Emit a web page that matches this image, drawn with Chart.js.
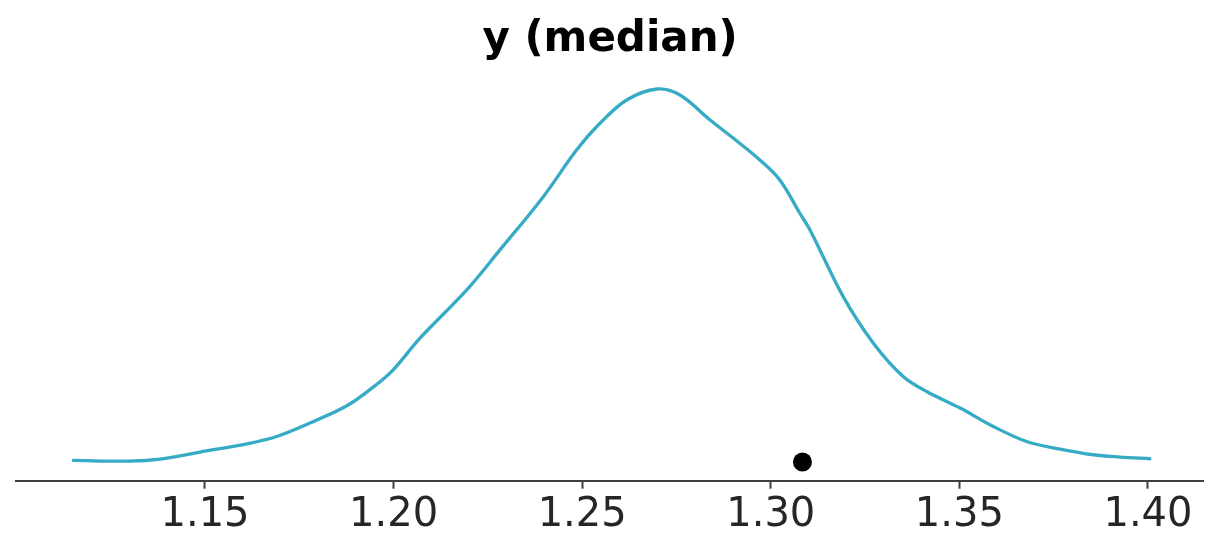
<!DOCTYPE html>
<html>
<head>
<meta charset="utf-8">
<script src="https://cdn.jsdelivr.net/npm/chart.js@4/dist/chart.umd.min.js"></script>
<style>
    html, body { margin: 0; padding: 0; background: #fff; }
    #wrap { width: 1223px; height: 559px; position: relative; }
</style>
</head>
<body>
<div id="wrap"><canvas id="chart"></canvas></div>
<script>
    // kde of the median
    const kdeX = [1.1151, 1.1301, 1.1381, 1.1487, 1.1611, 1.1690, 1.1778, 1.1876, 1.1946, 1.1999,
        1.2070, 1.2194, 1.2282, 1.2397, 1.2485, 1.2547, 1.2618,
        1.2698, 1.2759, 1.2839, 1.2901, 1.2971, 1.3024, 1.3077, 1.3104,
        1.3192, 1.3272, 1.3351, 1.3413, 1.3502, 1.3590, 1.3678, 1.3767, 1.3855, 1.3926, 1.4005];
    const kdeY = [0.038, 0.024, 0.072, 0.238, 0.436, 0.610, 0.930, 1.342, 1.788, 2.201,
        2.957, 4.108, 5.062, 6.333, 7.446, 8.083, 8.639,
        8.901, 8.758, 8.162, 7.725, 7.208, 6.731, 5.937, 5.539,
        3.948, 2.837, 2.041, 1.683, 1.288, 0.849, 0.491, 0.310, 0.174, 0.119, 0.079];

    // observed median
    const obsX = [1.3084];
    const obsY = [0];

    const xTicks = [1.15, 1.20, 1.25, 1.30, 1.35, 1.40];
    const xRange = [1.1000, 1.4148];
    const yRange = [-0.445, 9.345];

    const lineColor = '#36abc6';
    const axisColor = '#404040';

    var kdePoints = kdeX.map(function(v, i) { return {x: v, y: kdeY[i]}; });
    var obsPoints = obsX.map(function(v, i) { return {x: v, y: obsY[i]}; });

    var config = {
        type: 'line',
        data: {
            datasets: [{
                data: kdePoints,
                borderColor: lineColor,
                borderWidth: 3.3,
                borderCapStyle: 'round',
                borderJoinStyle: 'round',
                tension: 0.35,
                pointRadius: 0,
                fill: false
            }, {
                type: 'scatter',
                data: obsPoints,
                backgroundColor: '#000',
                borderWidth: 0,
                pointRadius: 9.5
            }]
        },
        options: {
            responsive: true,
            maintainAspectRatio: false,
            animation: false,
            events: [],
            layout: {
                padding: {left: 16.4, right: 19.2, top: 0, bottom: 0}
            },
            plugins: {
                legend: {display: false},
                tooltip: {enabled: false},
                title: {
                    display: true,
                    text: 'y (median)',
                    color: '#000',
                    font: {family: 'DejaVu Sans', size: 42, weight: 'bold', lineHeight: 1.2},
                    padding: {top: 15, bottom: 5}
                }
            },
            scales: {
                x: {
                    type: 'linear',
                    min: xRange[0],
                    max: xRange[1],
                    afterBuildTicks: function(scale) {
                        scale.ticks = xTicks.map(function(v) { return {value: v}; });
                    },
                    afterFit: function(scale) {
                        scale.height = 78.3;
                    },
                    ticks: {
                        color: '#262626',
                        padding: 3,
                        maxRotation: 0,
                        font: {family: 'DejaVu Sans', size: 40, lineHeight: 1.2},
                        callback: function(v) { return v.toFixed(2); }
                    },
                    grid: {
                        drawOnChartArea: false,
                        drawTicks: true,
                        tickLength: 8,
                        tickWidth: 2,
                        tickColor: axisColor
                    },
                    border: {display: true, color: axisColor, width: 2}
                },
                y: {
                    display: false,
                    min: yRange[0],
                    max: yRange[1]
                }
            }
        }
    };

    var myChart = new Chart(document.getElementById('chart'), config);
</script>
</body>
</html>
